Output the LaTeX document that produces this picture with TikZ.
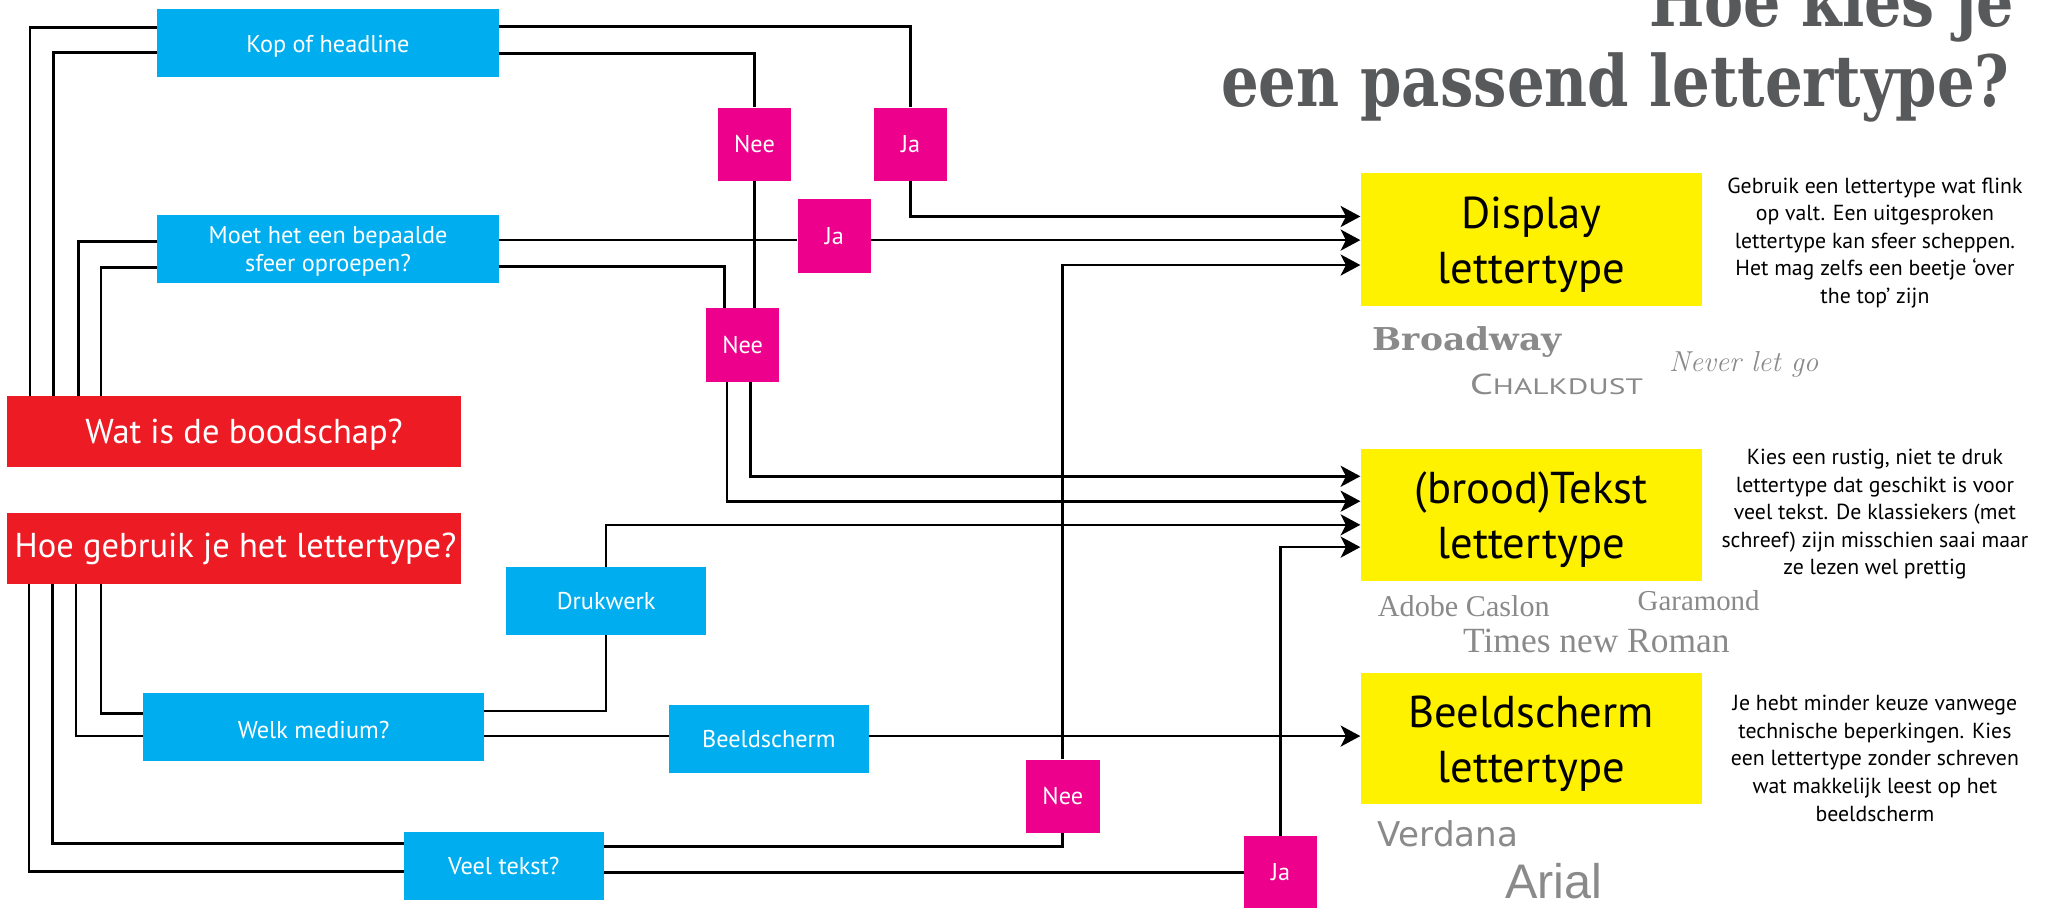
\documentclass[tikz,border=0pt]{standalone}
\usepackage{fontspec}
\newfontfamily\ptsans{PT Sans}
\newfontfamily\titlefont{DejaVu Serif}
\newfontfamily\serifsample{Liberation Serif}
\newfontfamily\verdanafont{DejaVu Sans}
\newfontfamily\arialfont{Liberation Sans}
\usetikzlibrary{arrows.meta}
\definecolor{qblue}{HTML}{00AEEF}
\definecolor{qred}{HTML}{ED1C24}
\definecolor{qmag}{HTML}{EC008C}
\definecolor{qyel}{HTML}{FFF200}
\definecolor{qtitle}{HTML}{58595B}
\definecolor{qsample}{HTML}{8A8A8A}
\newcommand{\ytwo}[2]{\raisebox{-4pt}[\height][\depth]{\begin{tabular}{@{}c@{}}#1\\#2\end{tabular}}}
\newcommand{\lowr}[1]{\raisebox{-2pt}[\height][\depth]{#1}}
\begin{document}
\begin{tikzpicture}[x=1pt,y=-1pt,
  line/.style={line width=2pt, black},
  arr/.style={line, -{Stealth[length=15pt,width=16pt,inset=4pt]}},
  bluebox/.style={fill=qblue, text=white, minimum width=260pt, minimum height=52pt, inner sep=0pt, align=center, font=\ptsans\fontsize{18.5}{21.5}\selectfont},
  redbox/.style={fill=qred, text=white, minimum width=346pt, minimum height=54pt, inner sep=0pt, align=center, font=\ptsans\fontsize{26.3}{28}\selectfont},
  magbox/.style={fill=qmag, text=white, minimum width=56pt, minimum height=56pt, inner sep=0pt, font=\ptsans\fontsize{18.5}{20}\selectfont},
  yelbox/.style={fill=qyel, text=black, minimum width=260pt, minimum height=101pt, inner sep=0pt, font=\ptsans\fontsize{34}{42}\selectfont},
  descr/.style={text=black, align=center, inner sep=0pt, font=\ptsans\fontsize{16.6}{21}\selectfont},
  sample/.style={text=qsample, inner sep=0pt, anchor=base west},
  title/.style={text=qtitle, inner sep=0pt, anchor=base east, font=\titlefont\bfseries\fontsize{54}{60}\selectfont}
]
\useasboundingbox (0,0) rectangle (1567,692);
\clip (0,0) rectangle (1567,692);

% title
\node[title] (t1) at (1535,20) {\resizebox{278pt}{\height}{Hoe kies je}};
\node[title] (t2) at (1532,81) {\resizebox{601pt}{\height}{een passend lettertype?}};

% nodes
\node[bluebox] (kop) at (250,33) {\lowr{Kop of headline}};
\node[bluebox] (moet) at (250,190) {\lowr{\begin{tabular}{@{}c@{}}Moet het een bepaalde\\sfeer oproepen?\end{tabular}}};
\node[bluebox, minimum width=152pt] (druk) at (462,458) {Drukwerk};
\node[bluebox] (welk) at (239,554) {\lowr{Welk medium?}};
\node[bluebox, minimum width=152pt] (beeld) at (586,563) {Beeldscherm};
\node[bluebox, minimum width=152pt] (veel) at (384,660) {Veel tekst?};
\node[redbox] (wat) at (178,329) {\hspace*{16pt}\lowr{Wat is de boodschap?}};
\node[redbox] (hoe) at (178,418) {\hspace*{3pt}Hoe gebruik je het lettertype?};
\node[magbox] (nee1) at (575,110) {Nee};
\node[magbox] (ja1) at (694,110) {Ja};
\node[magbox] (ja2) at (636,180) {Ja};
\node[magbox] (nee2) at (566,263) {Nee};
\node[magbox] (nee3) at (810,607) {Nee};
\node[magbox] (ja3) at (976,665) {Ja};
\node[yelbox] (disp) at (1167,182.5) {\ytwo{Display}{lettertype}};
\node[yelbox] (tekst) at (1167,392.5) {\ytwo{(brood)Tekst}{lettertype}};
\node[yelbox, minimum height=100pt] (bscherm) at (1167,563) {\ytwo{Beeldscherm}{lettertype}};

% descriptions
\node[descr] (d1) at (1429,185) {Gebruik een lettertype wat flink\\op valt. Een uitgesproken\\lettertype kan sfeer scheppen.\\Het mag zelfs een beetje ‘over\\the top’ zijn};
\node[descr] (d2) at (1429,392) {Kies een rustig, niet te druk\\lettertype dat geschikt is voor\\veel tekst. De klassiekers (met\\schreef) zijn misschien saai maar\\ze lezen wel prettig};
\node[descr] (d3) at (1429,578) {Je hebt minder keuze vanwege\\technische beperkingen. Kies\\een lettertype zonder schreven\\wat makkelijk leest op het\\beeldscherm};

% samples
\node[sample, font=\titlefont\bfseries\fontsize{24}{24}\selectfont] (s1) at (1046,267) {\resizebox{144pt}{\height}{Broadway}};
\node[sample, font=\ptsans\fontsize{22}{22}\selectfont] (s2) at (1120,301) {\resizebox{132pt}{\height}{C{\fontsize{17}{17}\selectfont HALKDUST}}};
\node[sample, font=\rmfamily\itshape\fontsize{22}{22}\selectfont] (s3) at (1272,283) {Never let go};
\node[sample, font=\serifsample\fontsize{23}{23}\selectfont] (s4) at (1050,470) {Adobe Caslon};
\node[sample, font=\serifsample\fontsize{22}{22}\selectfont] (s5) at (1248,465) {Garamond};
\node[sample, font=\serifsample\fontsize{27}{27}\selectfont] (s6) at (1115,497) {Times new Roman};
\node[sample, font=\verdanafont\fontsize{26}{26}\selectfont] (s7) at (1050,645) {Verdana};
\node[sample, font=\arialfont\fontsize{37}{37}\selectfont] (s8) at (1147,685) {Arial};

% connectors
\draw[line] (wat.north -| 23,0) |- (kop.west |- 0,21);
\draw[line] (wat.north -| 41,0) |- (kop.west |- 0,40);
\draw[line] (wat.north -| 60,0) |- (moet.west |- 0,184);
\draw[line] (wat.north -| 77,0) |- (moet.west |- 0,204);
\draw[line] (kop.east |- 0,20) -| (ja1.north);
\draw[line] (kop.east |- 0,41) -| (nee1.north);
\draw[arr] (ja1.south) |- (disp.west |- 0,165);
\draw[line] (moet.east |- 0,183) -- (ja2.west |- 0,183);
\draw[arr] (ja2.east |- 0,183) -- (disp.west |- 0,183);
\draw[line] (moet.east |- 0,203) -| (nee2.north -| 552,0);
\draw[line] (nee1.south) -- (nee1.south |- nee2.north);
\draw[arr] (nee2.south -| 572,0) |- (tekst.west |- 0,363);
\draw[arr] (nee2.south -| 554,0) |- (tekst.west |- 0,382);
\draw[arr] (druk.north) |- (tekst.west |- 0,400);
\draw[arr] (ja3.north) |- (tekst.west |- 0,417);
\draw[arr] (nee3.north) |- (disp.west |- 0,202);
\draw[line] (hoe.south -| 22,0) |- (veel.west |- 0,664);
\draw[line] (hoe.south -| 40,0) |- (veel.west |- 0,643);
\draw[line] (hoe.south -| 58,0) |- (welk.west |- 0,561);
\draw[line] (hoe.south -| 77,0) |- (welk.west |- 0,544);
\draw[line] (welk.east |- 0,542) -| (druk.south);
\draw[line] (welk.east |- 0,561) -- (beeld.west |- 0,561);
\draw[arr] (beeld.east |- 0,561) -- (bscherm.west |- 0,561);
\draw[line] (veel.east |- 0,645) -| (nee3.south);
\draw[line] (veel.east |- 0,665) -- (ja3.west |- 0,665);
\end{tikzpicture}
\end{document}
